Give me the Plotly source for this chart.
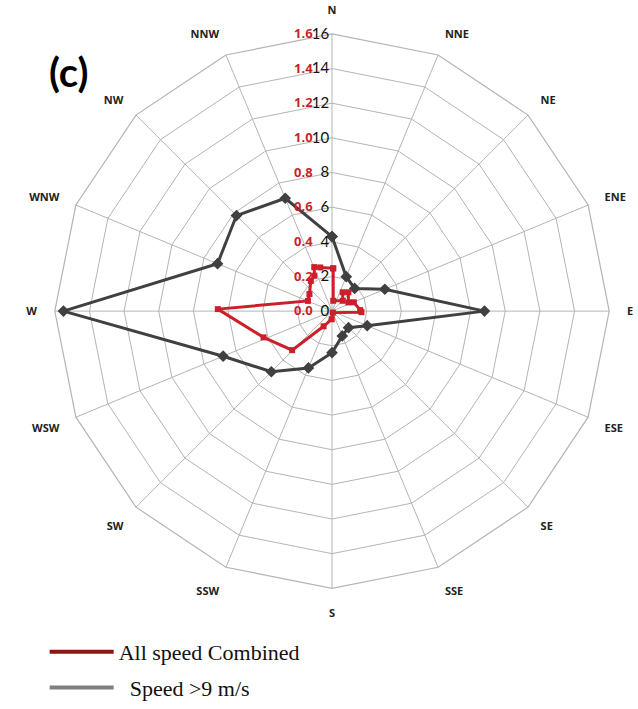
import plotly.graph_objects as go

# ---------------- data ----------------
directions = ["N", "NNE", "NE", "ENE", "E", "ESE", "SE", "SSE",
              "S", "SSW", "SW", "WSW", "W", "WNW", "NW", "NNW"]
speed_gt9 = [4.3, 2.15, 1.85, 3.3, 8.8, 2.2, 1.35, 1.55,
             2.4, 3.55, 4.95, 6.8, 15.5, 7.15, 7.8, 7.05]

# All speed combined: compass bearing (deg) and value
all_dir = [1.6, 6.7, 46, 29.6, 41, 62, 68, 88, 92, 150, 182, 209,
           225.6, 249, 271, 293, 307, 325, 333.5, 338, 345, 361.6]
all_val = [0.247, 0.060, 0.086, 0.125, 0.144, 0.107, 0.136, 0.163, 0.170,
           0.010, 0.047, 0.100, 0.322, 0.423, 0.659, 0.151, 0.163, 0.213,
           0.228, 0.274, 0.261, 0.247]

gray_ticks = [0, 2, 4, 6, 8, 10, 12, 14, 16]
red_ticks = [0.0, 0.2, 0.4, 0.6, 0.8, 1.0, 1.2, 1.4, 1.6]

legend_names = ["All speed Combined", "\u00a0\u00a0Speed >9 m/s"]

# ---------------- figure ----------------
W, H = 638, 709
cx, cy, R = 332, 312, 278
dom_x = [(cx - R) / W, (cx + R) / W]
dom_y = [(H - cy - R) / H, (H - cy + R) / H]

GRID = "#b4b4b4"
RED = "#cc1f2b"
DARK = "#404040"

fig = go.Figure()

fig.add_trace(go.Scatterpolar(
    r=speed_gt9 + speed_gt9[:1], theta=directions + directions[:1],
    mode="lines+markers", subplot="polar",
    line=dict(color=DARK, width=3),
    marker=dict(symbol="diamond", size=9, color=DARK),
    showlegend=False))

fig.add_trace(go.Scatterpolar(
    r=all_val, theta=all_dir, mode="lines+markers", subplot="polar2",
    line=dict(color=RED, width=3),
    marker=dict(symbol="square", size=6, color=RED),
    showlegend=False))

# legend entries
fig.add_trace(go.Scatterpolar(r=[None], theta=[None], mode="lines", subplot="polar",
                              name=legend_names[0], legendgroup="a",
                              line=dict(color="#8e1414", width=4)))
fig.add_trace(go.Scatterpolar(r=[None], theta=[None], mode="lines", subplot="polar",
                              name=legend_names[1], legendgroup="b",
                              line=dict(color="#808080", width=4)))

fig.update_layout(
    width=W, height=H,
    margin=dict(l=0, r=0, t=0, b=0),
    paper_bgcolor="white",
    polar=dict(
        domain=dict(x=dom_x, y=dom_y),
        bgcolor="white",
        gridshape="linear",
        angularaxis=dict(
            type="category", categoryarray=directions,
            direction="clockwise", rotation=90,
            showgrid=True, gridcolor=GRID, gridwidth=1.2,
            showline=True, linecolor=GRID, linewidth=1.2,
            ticks="outside", ticklen=15, tickcolor="rgba(0,0,0,0)",
            tickfont=dict(family="Open Sans", size=11, color="#222", weight="bold"),
        ),
        radialaxis=dict(
            range=[0, 16], tickvals=gray_ticks, ticktext=[str(v) for v in gray_ticks],
            angle=90, tickangle=90, side="counterclockwise",
            showgrid=True, gridcolor=GRID, gridwidth=1.2,
            showline=False, ticks="",
            tickfont=dict(family="Lato", size=15, color="#111"),
        ),
    ),
    polar2=dict(
        domain=dict(x=dom_x, y=dom_y),
        bgcolor="rgba(0,0,0,0)",
        angularaxis=dict(
            type="linear", direction="clockwise", rotation=90,
            showgrid=False, showline=False, ticks="", showticklabels=False,
        ),
        radialaxis=dict(
            range=[0, 1.6], tickvals=red_ticks,
            ticktext=["%.1f\u00a0\u00a0\u00a0\u00a0\u00a0" % v for v in red_ticks],
            angle=90, tickangle=90, side="counterclockwise",
            showgrid=False, showline=False, ticks="",
            tickfont=dict(family="Open Sans", size=13, color=RED, weight="bold"),
        ),
    ),
    legend=dict(
        x=0.07, y=0.107, xanchor="left", yanchor="top",
        font=dict(family="Liberation Serif", size=22, color="#111"),
        itemwidth=64, tracegroupgap=4, bgcolor="rgba(0,0,0,0)",
    ),
    annotations=[dict(
        text="(c)", x=47 / W, y=1 - 46 / H, xref="paper", yref="paper",
        showarrow=False, font=dict(family="Lato", size=40, color="#000", weight="bold"),
    )],
)

fig.write_html("out.html")
